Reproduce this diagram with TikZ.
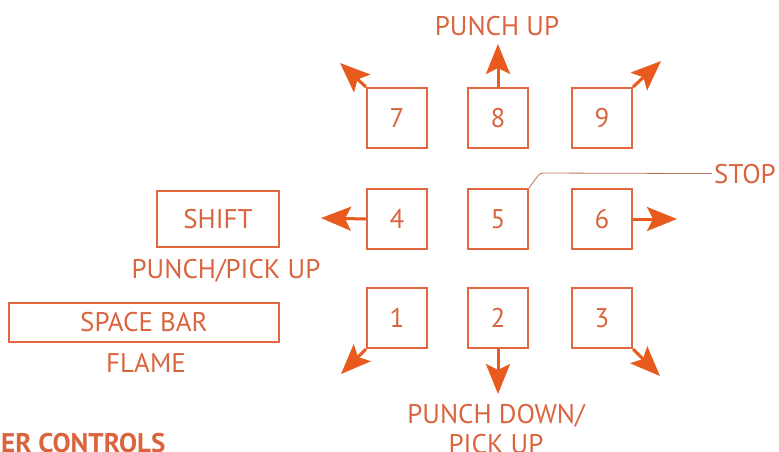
\documentclass[tikz,border=0pt]{standalone}
\usepackage{fontspec}
\setmainfont{PT Sans}
\usepackage{xcolor}
\definecolor{keyorange}{HTML}{E2673F}
\definecolor{arroworange}{HTML}{E95A1E}
\definecolor{labelorange}{HTML}{D9643E}
\definecolor{stopline}{HTML}{B8755A}
\usetikzlibrary{arrows.meta, positioning}
\tikzset{
  numkey/.style ={rectangle, draw=keyorange, line width=2pt, minimum size=60pt, inner sep=0pt,
                  text=labelorange, font=\fontsize{27}{30}\selectfont},
  widekey/.style={rectangle, draw=keyorange, line width=2pt, inner sep=0pt,
                  text=labelorange, font=\fontsize{27}{30}\selectfont},
  keylbl/.style ={text=labelorange, font=\fontsize{27}{30}\selectfont, align=center, inner sep=0pt},
  moveto/.style ={-{Stealth[length=30pt, width=24pt, inset=6pt]}, line width=3pt, draw=arroworange},
  stopwire/.style={line width=0.8pt, draw=stopline, rounded corners=3pt},
}
\begin{document}
\begin{tikzpicture}[x=1pt, y=-1pt]
  \useasboundingbox (0,0) rectangle (779,451);
  % number keys
  \node[numkey] (k5) at (498,219) {5};
  \node[numkey, above=39pt of k5] (k8) {8};
  \node[numkey, below=37pt of k5] (k2) {2};
  \node[numkey, left=39pt of k5] (k4) {4};
  \node[numkey, right=42pt of k5] (k6) {6};
  \node[numkey, above left=39pt and 39pt of k5] (k7) {7};
  \node[numkey, above right=39pt and 42pt of k5] (k9) {9};
  \node[numkey, below left=37pt and 39pt of k5] (k1) {1};
  \node[numkey, below right=37pt and 42pt of k5] (k3) {3};
  % other keys
  \node[widekey, minimum width=122pt, minimum height=56pt, left=86pt of k4] (shift) {SHIFT};
  \node[widekey, minimum width=270pt, minimum height=39pt, below=54pt of shift.south east, anchor=north east] (space) {SPACE BAR};
  % arrow tips
  \coordinate (tip8) at ([shift={(0,-43)}]k8.north);
  \coordinate (tip7) at ([shift={(-26,-24)}]k7.north west);
  \coordinate (tip9) at ([shift={(28,-26)}]k9.north east);
  \coordinate (tip4) at ([shift={(-45,-1)}]k4.west);
  \coordinate (tip6) at ([shift={(44,0)}]k6.east);
  \coordinate (tip1) at ([shift={(-25,25)}]k1.south west);
  \coordinate (tip2) at ([shift={(0,45)}]k2.south);
  \coordinate (tip3) at ([shift={(27,27)}]k3.south east);
  \foreach \k/\a in {1/south west,2/south,3/south east,4/west,6/east,7/north west,8/north,9/north east}
    \draw[moveto] (k\k.\a) -- (tip\k);
  % labels
  \node[keylbl, anchor=base] (uplbl) at (497,35) {PUNCH UP};
  \node[keylbl, anchor=base] (downlbl) at (496,453) {PUNCH DOWN/\\PICK UP};
  \node[keylbl, anchor=base] (pickup) at (226,278) {PUNCH/PICK UP};
  \node[keylbl, anchor=base] (flame) at (146,372) {FLAME};
  \node[keylbl, anchor=base west, inner xsep=2pt] (stop) at (712,183) {STOP};
  \draw[stopwire] (k5.north east) -- ++(11,-15) -- (stop.west);
  \node[keylbl, font=\bfseries\fontsize{27}{30}\selectfont, anchor=base west] (title) at (1,452) {ER CONTROLS};
\end{tikzpicture}
\end{document}
